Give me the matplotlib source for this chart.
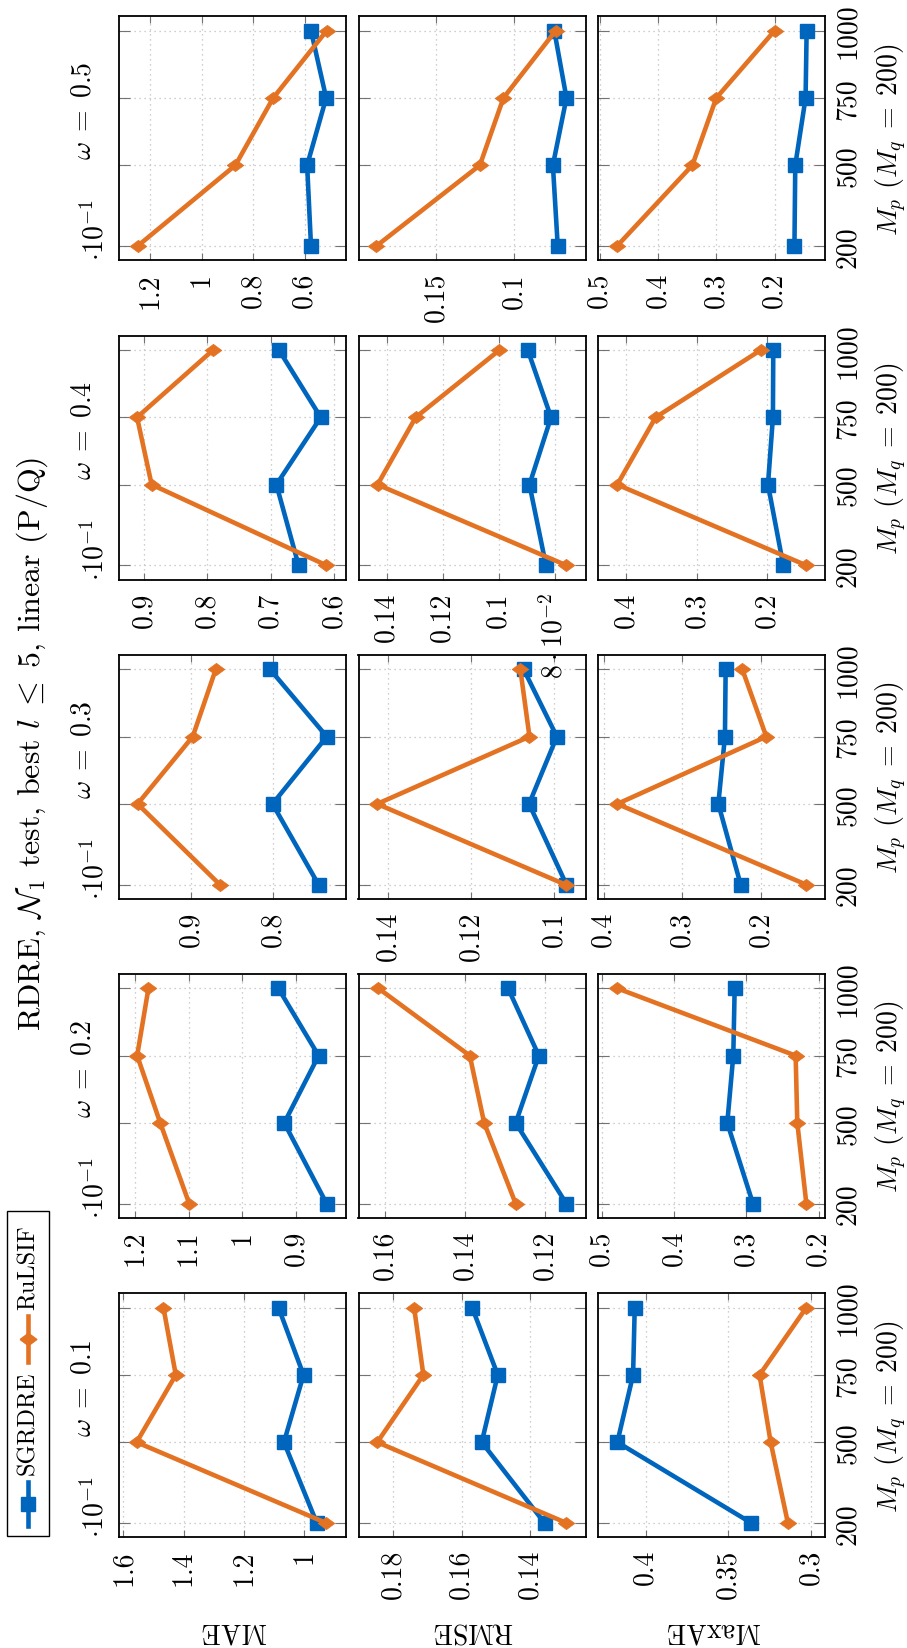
import matplotlib
matplotlib.use("Agg")
import matplotlib.pyplot as plt
from matplotlib.lines import Line2D
from matplotlib.patches import Rectangle

plt.rcParams['font.family'] = 'serif'
plt.rcParams['font.serif'] = ['cmr10']
plt.rcParams['mathtext.fontset'] = 'cm'
plt.rcParams['axes.unicode_minus'] = False

omegas = [0.1, 0.2, 0.3, 0.4, 0.5]
metrics = ['MAE', 'RMSE', 'MaxAE']
m_p = [200, 500, 750, 1000]

# one row per omega, one value per M_p
sgrdre_mae = [[0.958, 1.067, 1.002, 1.085], [0.843, 0.922, 0.858, 0.933], [0.745, 0.801, 0.735, 0.804],
              [0.656, 0.691, 0.621, 0.687], [0.575, 0.590, 0.516, 0.575]]
rulsif_mae = [[0.927, 1.556, 1.426, 1.467], [1.099, 1.153, 1.196, 1.175], [0.865, 0.965, 0.898, 0.870],
              [0.612, 0.888, 0.911, 0.791], [1.249, 0.869, 0.722, 0.514]]
sgrdre_rmse = [[0.1357, 0.1541, 0.1494, 0.1569], [0.1146, 0.1273, 0.1215, 0.1292], [0.0970, 0.1060, 0.0993, 0.1073],
               [0.0831, 0.0890, 0.0813, 0.0896], [0.0718, 0.0749, 0.0662, 0.0740]]
rulsif_rmse = [[0.1293, 0.1847, 0.1712, 0.1739], [0.1273, 0.1352, 0.1388, 0.1617], [0.0972, 0.1426, 0.1059, 0.1081],
               [0.0758, 0.1432, 0.1296, 0.0997], [0.1880, 0.1217, 0.1066, 0.0731]]
sgrdre_maxae = [[0.3362, 0.4171, 0.4076, 0.4066], [0.2908, 0.3263, 0.3180, 0.3161], [0.2258, 0.2542, 0.2458, 0.2449],
                [0.1773, 0.1990, 0.1920, 0.1915], [0.1660, 0.1646, 0.1469, 0.1451]]
rulsif_maxae = [[0.3141, 0.3245, 0.3312, 0.3030], [0.2170, 0.2295, 0.2318, 0.4783], [0.1424, 0.3826, 0.1932, 0.2237],
                [0.1447, 0.4128, 0.3584, 0.2092], [0.4700, 0.3410, 0.3000, 0.2000]]

mae_ticks = [[1.6, 1.4, 1.2, 1.0], [1.2, 1.1, 1.0, 0.9], [0.9, 0.8], [0.9, 0.8, 0.7, 0.6], [1.2, 1.0, 0.8, 0.6]]
rmse_ticks = [[0.18, 0.16, 0.14], [0.16, 0.14, 0.12], [0.14, 0.12, 0.1], [0.14, 0.12, 0.1, 0.08], [0.15, 0.1]]
maxae_ticks = [[0.4, 0.35, 0.3], [0.5, 0.4, 0.3, 0.2], [0.4, 0.3, 0.2], [0.4, 0.3, 0.2], [0.5, 0.4, 0.3, 0.2]]

mae_lims = [(0.862, 1.6155), (0.8075, 1.2304), (0.712, 0.988), (0.5816, 0.94), (0.44, 1.323)]
rmse_lims = [(0.1237, 0.1902), (0.1098, 0.1667), (0.0924, 0.1471), (0.069, 0.150), (0.054, 0.1995)]
maxae_lims = [(0.2915, 0.4286), (0.1908, 0.5046), (0.1182, 0.4068), (0.1177, 0.4397), (0.1131, 0.5023)]

sgrdre = [sgrdre_mae, sgrdre_rmse, sgrdre_maxae]
rulsif = [rulsif_mae, rulsif_rmse, rulsif_maxae]
ticks = [mae_ticks, rmse_ticks, maxae_ticks]
lims = [mae_lims, rmse_lims, maxae_lims]

BLUE = '#0065BD'
ORANGE = '#E37222'
DIAMOND = [(-1, 0), (0, 0.74), (1, 0), (0, -0.74), (-1, 0)]

# page is laid out sideways: M_p runs upward, metric values grow to the left
W, H = 907, 1649
col_left = [118.7, 358.5, 598.3]
row_top = [1294.3, 975.0, 656.0, 336.7, 17.3]
pw, ph = 227.0, 244.0


def fx(x):
    return x / W


def fy(y):
    return 1 - y / H


def fmt(v):
    if abs(v - 0.08) < 1e-9:
        return r'$8\cdot10^{-2}$'
    return f'{v:g}'


fig = plt.figure(figsize=(W / 100, H / 100), dpi=100)
fig.patch.set_facecolor('white')

for i, om in enumerate(omegas):
    top = row_top[i]
    for j in range(3):
        ax = fig.add_axes([fx(col_left[j]), fy(top + ph), pw / W, ph / H])
        ax.set_facecolor('none')
        ax.plot(sgrdre[j][i], m_p, color=BLUE, lw=3.3, marker='s', ms=10,
                mec=BLUE, zorder=3)
        ax.plot(rulsif[j][i], m_p, color=ORANGE, lw=3.3, marker=DIAMOND, ms=12,
                mec=ORANGE, mew=0.5, zorder=3)
        lo, hi = lims[j][i]
        ax.set_xlim(hi, lo)
        ax.set_ylim(146.67, 1053.33)
        ax.set_xticks(ticks[j][i], [fmt(v) for v in ticks[j][i]])
        ax.set_yticks(m_p, [str(v) for v in m_p])
        ax.grid(True, linestyle=(0, (1, 3)), color='0.75', linewidth=0.9)
        ax.set_axisbelow(True)
        ax.tick_params(axis='x', direction='in', top=True, bottom=True, length=4.8,
                       width=0.8, color='0.45', labelsize=20, pad=8.5, labelrotation=90)
        ax.tick_params(axis='y', direction='in', left=True, right=True, length=8,
                       width=0.8, color='0.45', labelsize=20, pad=7,
                       labelleft=False, labelright=(j == 2), labelrotation=90)
        for lab in ax.get_yticklabels():
            lab.set_va('center')
            lab.set_ha('left')
        for s in ax.spines.values():
            s.set_linewidth(1.3)
        if j == 0:
            fig.text(fx(110), fy(top + ph), r'$\cdot10^{-1}$', rotation=90,
                     ha='right', va='bottom', fontsize=20)
        if j == 2:
            fig.text(fx(891), fy(top + ph / 2), r'$M_p$ ($M_q\;=\;200$)', rotation=90,
                     ha='center', va='center', fontsize=20)
    fig.text(fx(83), fy(top + ph / 2 - 28.5), rf'$\omega\;=\;{om}$', rotation=90,
             ha='center', va='center', fontsize=20)

for j, name in enumerate(metrics):
    fig.text(fx(col_left[j] + pw / 2), fy(1630), name, rotation=180,
             ha='center', va='center', fontsize=20)

fig.text(fx(32.5), fy(744), r'RDRE, $\mathcal{N}_1$ test, best $l\;\leq\;5$, linear (P/Q)',
         rotation=90, ha='center', va='center', fontsize=23)

# legend box drawn by hand so it sits sideways with the rest
fig.add_artist(Rectangle((fx(7.3), fy(1537)), (49 - 7.3) / W, (1537 - 1212) / H,
                         transform=fig.transFigure, fill=False, edgecolor='black', lw=1))
fig.add_artist(Line2D([fx(28.2)] * 2, [fy(1527), fy(1483)], color=BLUE, lw=3.3,
                      transform=fig.transFigure))
fig.add_artist(Line2D([fx(28.2)], [fy(1505)], color=BLUE, marker='s', ms=10,
                      transform=fig.transFigure))
fig.add_artist(Line2D([fx(28.2)] * 2, [fy(1363), fy(1317)], color=ORANGE, lw=3.3,
                      transform=fig.transFigure))
fig.add_artist(Line2D([fx(28.2)], [fy(1340)], color=ORANGE, marker=DIAMOND, ms=12,
                      transform=fig.transFigure))
fig.text(fx(28.2), fy(1423.5), 'SGRDRE', rotation=90, ha='center', va='center', fontsize=17.5)
fig.text(fx(28.2), fy(1267.5), 'RuLSIF', rotation=90, ha='center', va='center', fontsize=17.5)

fig.savefig('out.png', dpi=100)
